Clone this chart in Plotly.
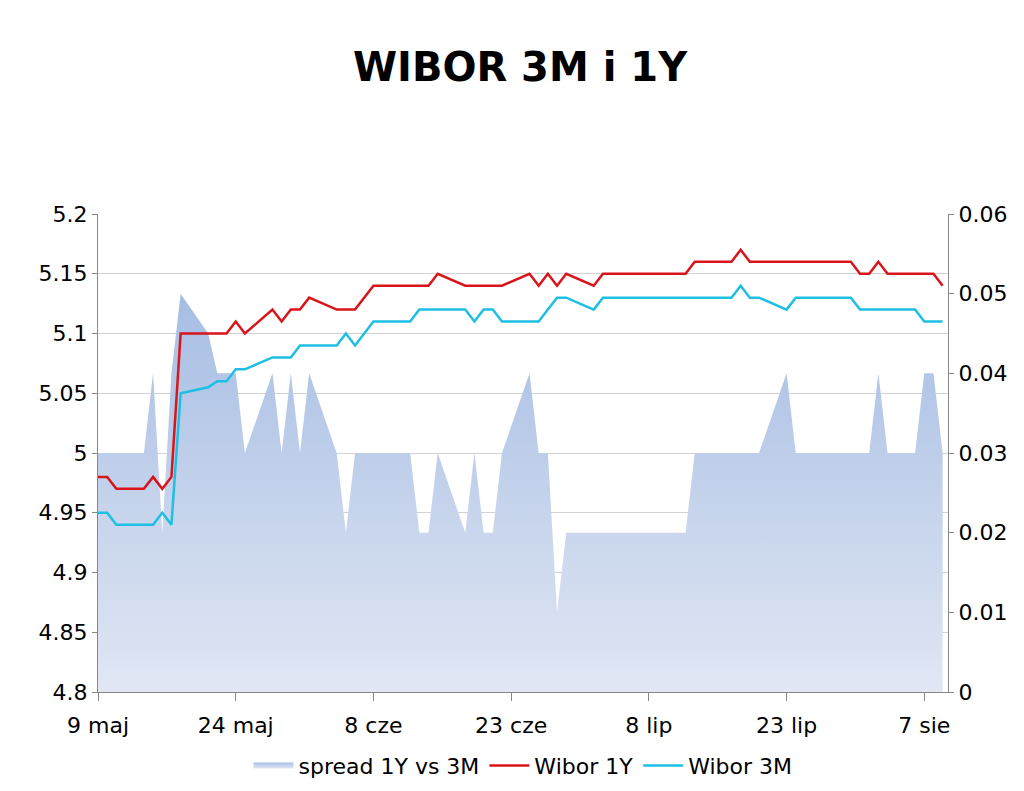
import plotly.graph_objects as go

dates = ["2012-05-09","2012-05-10","2012-05-11","2012-05-14","2012-05-15","2012-05-16","2012-05-17","2012-05-18",
         "2012-05-21","2012-05-22","2012-05-23","2012-05-24","2012-05-25","2012-05-28","2012-05-29","2012-05-30","2012-05-31",
         "2012-06-01","2012-06-04","2012-06-05","2012-06-06","2012-06-08","2012-06-11","2012-06-12","2012-06-13","2012-06-14",
         "2012-06-15","2012-06-18","2012-06-19","2012-06-20","2012-06-21","2012-06-22","2012-06-25","2012-06-26","2012-06-27",
         "2012-06-28","2012-06-29","2012-07-02","2012-07-03","2012-07-04","2012-07-05","2012-07-06","2012-07-09","2012-07-10",
         "2012-07-11","2012-07-12","2012-07-13","2012-07-16","2012-07-17","2012-07-18","2012-07-19","2012-07-20","2012-07-23",
         "2012-07-24","2012-07-25","2012-07-26","2012-07-27","2012-07-30","2012-07-31","2012-08-01","2012-08-02","2012-08-03",
         "2012-08-06","2012-08-07","2012-08-08","2012-08-09"]

wibor_1y = [4.98,4.98,4.97,4.97,4.98,4.97,4.98,5.10,
            5.10,5.10,5.10,5.11,5.10,5.12,5.11,5.12,5.12,
            5.13,5.12,5.12,5.12,5.14,5.14,5.14,5.14,5.14,
            5.15,5.14,5.14,5.14,5.14,5.14,5.15,5.14,5.15,
            5.14,5.15,5.14,5.15,5.15,5.15,5.15,5.15,5.15,
            5.15,5.15,5.16,5.16,5.16,5.17,5.16,5.16,5.16,
            5.16,5.16,5.16,5.16,5.16,5.15,5.15,5.16,5.15,
            5.15,5.15,5.15,5.14]

wibor_3m = [4.95,4.95,4.94,4.94,4.94,4.95,4.94,5.05,
            5.055,5.06,5.06,5.07,5.07,5.08,5.08,5.08,5.09,
            5.09,5.09,5.10,5.09,5.11,5.11,5.11,5.12,5.12,
            5.12,5.12,5.11,5.12,5.12,5.11,5.11,5.11,5.12,
            5.13,5.13,5.12,5.13,5.13,5.13,5.13,5.13,5.13,
            5.13,5.13,5.13,5.13,5.13,5.14,5.13,5.13,5.12,
            5.13,5.13,5.13,5.13,5.13,5.12,5.12,5.12,5.12,
            5.12,5.11,5.11,5.11]

spread = [0.03,0.03,0.03,0.03,0.04,0.02,0.04,0.05,
          0.045,0.04,0.04,0.04,0.03,0.04,0.03,0.04,0.03,
          0.04,0.03,0.02,0.03,0.03,0.03,0.03,0.02,0.02,
          0.03,0.02,0.03,0.02,0.02,0.03,0.04,0.03,0.03,
          0.01,0.02,0.02,0.02,0.02,0.02,0.02,0.02,0.02,
          0.02,0.02,0.03,0.03,0.03,0.03,0.03,0.03,0.04,
          0.03,0.03,0.03,0.03,0.03,0.03,0.03,0.04,0.03,
          0.03,0.04,0.04,0.03]

tick_vals = ["2012-05-09","2012-05-24","2012-06-08","2012-06-23","2012-07-08","2012-07-23","2012-08-07"]
tick_text = ["9 maj","24 maj","8 cze","23 cze","8 lip","23 lip","7 sie"]

FONT = "DejaVu Sans"
fig = go.Figure()
fig.add_trace(go.Scatter(x=dates, y=spread, name="spread 1Y vs 3M", mode="none", fill="tozeroy",
                         fillgradient=dict(type="vertical", colorscale=[[0, "#E1E7F4"], [1, "#A6BDE3"]]),
                         yaxis="y"))
fig.add_trace(go.Scatter(x=dates, y=wibor_1y, name="Wibor 1Y", mode="lines",
                         line=dict(color="#D9151C", width=2.5), yaxis="y2"))
fig.add_trace(go.Scatter(x=dates, y=wibor_3m, name="Wibor 3M", mode="lines",
                         line=dict(color="#1EBFE3", width=2.5), yaxis="y2"))

fig.update_layout(
    width=1024, height=791,
    paper_bgcolor="white", plot_bgcolor="white",
    margin=dict(l=90, r=84, t=206, b=103),
    font=dict(family=FONT, size=22, color="black"),
    title=dict(text="<b>WIBOR 3M i 1Y</b>", x=0.5, xanchor="center", y=0.925, yanchor="middle",
               font=dict(size=40, family=FONT)),
    xaxis=dict(type="date", range=["2012-05-09", "2012-08-09 14:00"], tickvals=tick_vals, ticktext=tick_text,
               showgrid=False, showline=True, linecolor="#888888", ticks="outside", tickcolor="#888888",
               ticklen=8, zeroline=False, automargin=False, ticklabelstandoff=6),
    yaxis=dict(side="right", range=[0, 0.06], dtick=0.01, showgrid=False, showline=True,
               linecolor="#888888", ticks="outside", tickcolor="#888888", ticklen=5, zeroline=False,
               automargin=False),
    yaxis2=dict(side="left", overlaying="y", range=[4.8, 5.2], dtick=0.05, showgrid=True,
                gridcolor="rgba(180,180,180,0.6)", showline=True, linecolor="#888888", ticks="outside",
                tickcolor="#888888", ticklen=5, zeroline=False, automargin=False),
    legend=dict(orientation="h", x=0.5, xanchor="center", y=-0.11, yanchor="top",
                font=dict(size=22), itemwidth=40, tracegroupgap=0),
    showlegend=True,
)
fig.write_html("out.html")
